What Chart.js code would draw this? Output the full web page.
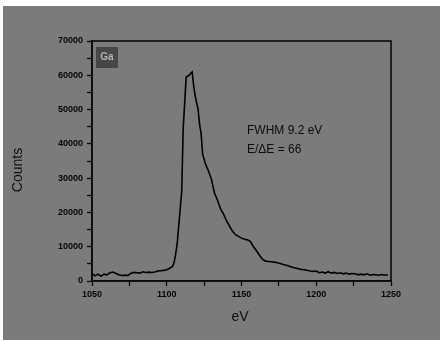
<!DOCTYPE html>
<html>
<head>
<meta charset="utf-8">
<script src="https://cdn.jsdelivr.net/npm/chart.js@4.4.0/dist/chart.umd.min.js"></script>
<style>
html,body{margin:0;padding:0;background:#fff;}
#wrap{position:absolute;left:0;top:0;width:441px;height:341px;}
</style>
</head>
<body>
<div id="wrap"><canvas id="c" width="441" height="341"></canvas></div>
<script>
const energies = [1050,1052,1054,1056,1058,1060,1062,1064,1066,1068,1070,1072,1074,1076,1078,1080,1082,1084,1086,1088,1090,1092,1094,1096,1098,1100,1102,1104,1105,1106,1107,1108,1109,1110,1111,1112,1113,1114,1115,1116,1117,1118,1119,1120,1121,1122,1123,1124,1125,1126,1128,1130,1132,1134,1136,1138,1140,1142,1144,1146,1148,1150,1152,1154,1156,1158,1160,1162,1164,1166,1168,1170,1172,1174,1176,1178,1180,1182,1184,1186,1188,1190,1192,1194,1196,1198,1200,1202,1204,1206,1208,1210,1212,1214,1216,1218,1220,1222,1224,1226,1228,1230,1232,1234,1236,1238,1240,1242,1244,1246,1248];
const counts = [2200,1500,2000,1400,2000,1800,2400,2600,2200,1800,1600,1700,1600,2200,2500,2400,2300,2700,2500,2600,2500,2600,2900,3000,3100,3300,3700,4300,5500,8000,11000,16000,21000,26000,44500,52000,59500,59800,60000,60600,61000,57000,54000,52000,50000,45500,43000,37000,35500,34000,32000,29500,25500,23500,21000,19500,17500,16000,14500,13500,13000,12500,12200,12000,11500,10000,8800,7500,6400,5800,5700,5600,5500,5300,5100,4800,4600,4300,4000,3800,3600,3400,3300,3100,2900,2800,2900,2400,2600,2300,2700,2300,2500,2200,2400,2100,2300,2000,2200,2100,1800,2000,1800,2100,1700,1900,1800,1700,1900,1700,1800];
const xTicks = [1050,1100,1150,1200,1250];
const yTicks = [0,10000,20000,30000,40000,50000,60000,70000];
const panelLabel = "Ga";
const noteLines = ["FWHM 9.2 eV","E/\u0394E = 66"];
const xTitle = "eV";
const yTitle = "Counts";

const pts = energies.map((e,i)=>({x:e,y:counts[i]}));

const decor = {
  id:'decor',
  beforeDraw(chart){
    const ctx = chart.ctx;
    ctx.save();
    ctx.fillStyle = '#7b7b7b';
    ctx.fillRect(3,6,437,334);
    ctx.restore();
  },
  afterDraw(chart){
    const ctx = chart.ctx, a = chart.chartArea;
    ctx.save();
    ctx.strokeStyle = '#0a0a0a';
    ctx.lineWidth = 1.6;
    ctx.strokeRect(a.left, a.top, a.right-a.left, a.bottom-a.top);
    ctx.fillStyle = '#474747';
    ctx.fillRect(96,47,22,21);
    ctx.fillStyle = '#b4b4b4';
    ctx.font = 'bold 10px "Liberation Sans", Arial, sans-serif';
    ctx.textAlign = 'center';
    ctx.textBaseline = 'middle';
    ctx.fillText(panelLabel, 107, 57.5);
    ctx.fillStyle = '#0d0d0d';
    ctx.font = '12px "Liberation Sans", Arial, sans-serif';
    ctx.textAlign = 'left';
    ctx.fillText(noteLines[0], 247, 131);
    ctx.fillText(noteLines[1], 247, 150);
    ctx.font = '14px "Liberation Sans", Arial, sans-serif';
    ctx.textAlign = 'center';
    ctx.fillText(xTitle, 240, 317);
    ctx.translate(18,170);
    ctx.rotate(-Math.PI/2);
    ctx.fillText(yTitle, 0, 0);
    ctx.restore();
  }
};

new Chart(document.getElementById('c'), {
  type:'scatter',
  data:{datasets:[{data:pts, showLine:true, borderColor:'#000', borderWidth:1.6, pointRadius:0, tension:0, fill:false}]},
  options:{
    responsive:false, animation:false,
    layout:{padding:{left:0,right:50,top:41,bottom:0}},
    plugins:{legend:{display:false},tooltip:{enabled:false}},
    scales:{
      x:{type:'linear',min:1050,max:1250,
        afterFit(s){s.height=60;},
        afterBuildTicks(s){const t=[];for(let v=1050;v<=1250;v+=25)t.push({value:v});s.ticks=t;},
        grid:{drawOnChartArea:false,tickLength:5,color:'#0a0a0a',tickWidth:1.3},
        border:{color:'#0a0a0a',width:1.6},
        ticks:{padding:3,color:'#050505',font:{size:9,weight:'bold',family:'"Liberation Sans", Arial, sans-serif'},maxRotation:0,autoSkip:false,
          callback:(v)=>xTicks.includes(v)?String(v):''}
      },
      y:{type:'linear',min:0,max:70000,
        afterFit(s){s.width=92;},
        afterBuildTicks(s){const t=[];for(let v=0;v<=70000;v+=5000)t.push({value:v});s.ticks=t;},
        grid:{drawOnChartArea:false,tickLength:5,color:'#0a0a0a',tickWidth:1.3},
        border:{color:'#0a0a0a',width:1.6},
        ticks:{padding:4,color:'#050505',font:{size:9,weight:'bold',family:'"Liberation Sans", Arial, sans-serif'},autoSkip:false,
          callback:(v)=>yTicks.includes(v)?String(v):''}
      }
    }
  },
  plugins:[decor]
});
</script>
</body>
</html>
